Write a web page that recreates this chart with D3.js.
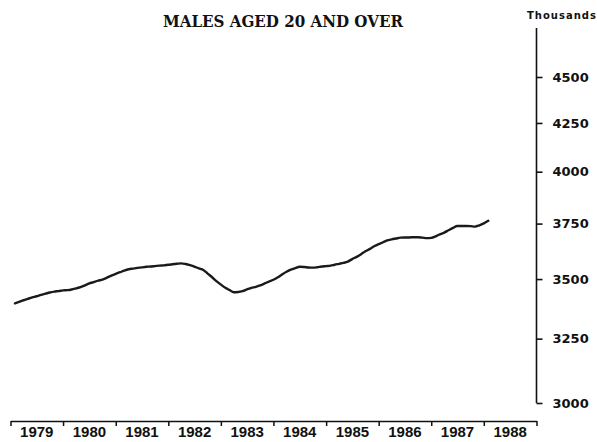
<!DOCTYPE html>
<html>
<head>
<meta charset="utf-8">
<script src="https://cdn.jsdelivr.net/npm/d3@7"></script>
<style>
  body { margin: 0; background: #fff; }
  svg { display: block; }
</style>
</head>
<body>
<div id="chart"></div>
<script>
const width = 597;
const height = 442;

// monthly values, thousands, Jan 1979 .. Jan 1988
const startYear = 1979;
const values = [
  3396, 3402, 3409, 3415, 3421, 3426, 3432, 3437, 3442, 3446, 3448, 3451,
  3452, 3455, 3460, 3465, 3473, 3481, 3487, 3493, 3498, 3506, 3515, 3523,
  3530, 3537, 3543, 3546, 3549, 3551, 3554, 3555, 3557, 3559, 3560, 3563,
  3565, 3567, 3569, 3566, 3561, 3555, 3547, 3540, 3524, 3508, 3491, 3476,
  3462, 3453, 3443, 3444, 3448, 3455, 3462, 3466, 3473, 3481, 3489, 3497,
  3508, 3520, 3532, 3541, 3548, 3554, 3553, 3551, 3550, 3552, 3555, 3557,
  3559, 3563, 3567, 3571, 3577, 3588, 3598, 3610, 3623, 3634, 3646, 3655,
  3664, 3672, 3677, 3681, 3685, 3686, 3686, 3687, 3687, 3685, 3683, 3684,
  3691, 3700, 3708, 3719, 3730, 3739, 3739, 3739, 3738, 3736, 3742, 3751,
  3763
];
const years = [1979, 1980, 1981, 1982, 1983, 1984, 1985, 1986, 1987, 1988];
const yTicks = [3000, 3250, 3500, 3750, 4000, 4250, 4500];

const data = values.map((v, i) => ({ date: new Date(startYear, i + 1, 1), value: v }));

const svg = d3.select('#chart')
    .append('svg')
    .attr('width', width)
    .attr('height', height)

const x = d3.scaleTime()
    .domain([new Date(1979, 0, 1), new Date(1989, 0, 1)])
    .range([10.5, 536.5])

const y = d3.scaleLog()
    .domain([3000, 4500])
    .range([403, 77])

const axisX = 536.5;

// title
svg.append('text')
    .attr('x', 163)
    .attr('y', 27)
    .attr('textLength', 240)
    .attr('lengthAdjust', 'spacingAndGlyphs')
    .style('font-family', 'DejaVu Serif')
    .style('font-weight', 'bold')
    .style('font-size', '16px')
    .attr('fill', '#111')
    .text('MALES AGED 20 AND OVER')

svg.append('text')
    .attr('x', 527)
    .attr('y', 18.5)
    .style('font-family', 'DejaVu Sans')
    .style('font-weight', 'bold')
    .style('font-size', '10px')
    .style('letter-spacing', '1px')
    .attr('fill', '#111')
    .text('Thousands')

// right axis
svg.append('line')
    .attr('x1', axisX).attr('x2', axisX)
    .attr('y1', 28).attr('y2', y(3000))
    .attr('stroke', '#111')
    .attr('stroke-width', 1.6)

const yAxis = d3.axisRight(y)
    .tickValues(yTicks)
    .tickFormat(d3.format('d'))
    .tickSize(6)
    .tickPadding(10)

const gy = svg.append('g')
    .attr('transform', `translate(${axisX},0)`)
    .call(yAxis)

gy.select('.domain').remove()
gy.selectAll('line').attr('stroke', '#111').attr('stroke-width', 1.6)
gy.selectAll('text')
    .attr('fill', '#111')
    .style('font-family', 'DejaVu Sans')
    .style('font-weight', 'bold')
    .style('font-size', '13px')

// bottom axis
const axisY = 421;

const xAxis = d3.axisBottom(x)
    .tickValues(d3.range(1979, 1990).map(yr => new Date(yr, 0, 1)))
    .tickFormat('')
    .tickSize(5)
    .tickSizeOuter(0)

const gx = svg.append('g')
    .attr('transform', `translate(0,${axisY})`)
    .call(xAxis)

gx.select('.domain').attr('stroke', '#111').attr('stroke-width', 1.6)
gx.selectAll('line').attr('stroke', '#111').attr('stroke-width', 1.5)

svg.append('g')
    .selectAll('text')
    .data(years)
    .enter()
    .append('text')
    .attr('x', d => (x(new Date(d, 0, 1)) + x(new Date(d + 1, 0, 1))) / 2)
    .attr('y', 437)
    .attr('text-anchor', 'middle')
    .style('font-family', 'Liberation Sans')
    .style('font-weight', 'bold')
    .style('font-size', '15px')
    .attr('fill', '#111')
    .text(d => d)

// series
const line = d3.line()
    .x(d => x(d.date))
    .y(d => y(d.value))
    .curve(d3.curveMonotoneX)

svg.append('path')
    .datum(data)
    .attr('d', line)
    .attr('fill', 'none')
    .attr('stroke', '#1a1a1a')
    .attr('stroke-width', 2.4)
    .attr('stroke-linejoin', 'round')
    .attr('stroke-linecap', 'round')
</script>
</body>
</html>
